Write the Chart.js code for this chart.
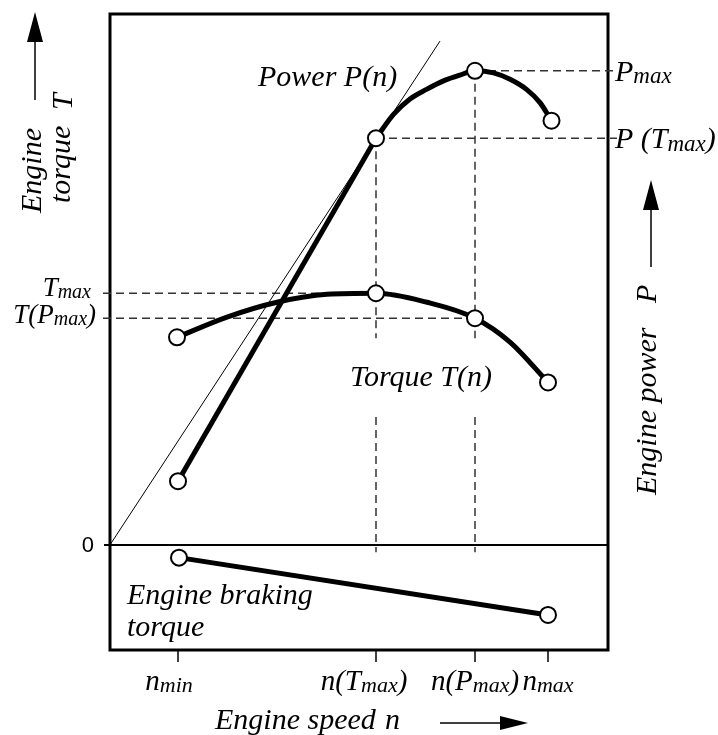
<!DOCTYPE html>
<html>
<head>
<meta charset="utf-8">
<title>Engine torque and power</title>
<script src="https://cdn.jsdelivr.net/npm/chart.js@4.4.1/dist/chart.umd.min.js"></script>
<style>
    html, body { margin: 0; padding: 0; background: #fff; }
    canvas { display: block; }
</style>
</head>
<body>
<canvas id="engineChart" width="718" height="735"></canvas>
<script>
// speed in arbitrary units (0..99.6), torque / power in arbitrary units (0..100)
const speedTicks = [13.6, 53.2, 73.0, 87.6];
const speedTickLabels = ["n_{min}", "n(T_{max})", "n(P_{max})", "n_{max}"];

const torqueTickValues = [47.4, 42.7];
const torqueTickLabels = ["T_{max}", "T(P_{max})"];
const powerTickValues = [89.3, 76.6];
const powerTickLabels = ["P_{max}", "P (T_{max})"];

const powerRampSpeed = [13.6, 53.2];
const powerRampValue = [12.0, 76.6];
const powerCurveSpeed = [53.2, 56.7, 60.0, 63.3, 66.7, 70.0, 73.0, 76.7, 80.0, 83.3, 86.0, 88.3];
const powerCurveValue = [76.6, 81.1, 84.0, 85.8, 87.4, 88.5, 89.3, 88.9, 87.7, 85.8, 83.3, 79.9];

const torqueSpeed = [13.4, 23.4, 33.4, 43.4, 53.2, 63.4, 73.0, 80.0, 87.6];
const torqueValue = [39.1, 42.9, 45.7, 47.2, 47.4, 45.7, 42.7, 38.2, 30.6];

const brakingSpeed = [13.8, 87.6];
const brakingValue = [-2.4, -13.2];

const tangentSpeed = [0, 66.0];
const tangentValue = [0, 94.9];

const nTmax = speedTicks[1], nPmax = speedTicks[2];
const Tmax = torqueTickValues[0], TPmax = torqueTickValues[1];
const Pmax = powerTickValues[0], PTmax = powerTickValues[1];

function toPoints(xs, ys) {
    return xs.map((x, i) => ({ x: x, y: ys[i] }));
}

function markers(n, keys) {
    const r = [];
    for (let i = 0; i < n; i++) r.push(keys.indexOf(i) >= 0 ? 8 : 0);
    return r;
}

const serif = "'Liberation Serif', 'Times New Roman', serif";

function parseRich(str) {
    const parts = [];
    let i = 0;
    while (i < str.length) {
        const k = str.indexOf("_{", i);
        if (k < 0) { parts.push({ t: str.slice(i), sub: false }); break; }
        if (k > i) parts.push({ t: str.slice(i, k), sub: false });
        const e = str.indexOf("}", k);
        parts.push({ t: str.slice(k + 2, e), sub: true });
        i = e + 1;
    }
    return parts;
}

function drawRich(ctx, str, x, y, size, align) {
    const parts = parseRich(str);
    const fontFor = p => "italic " + (p.sub ? Math.round(size * 0.75) : size) + "px " + serif;
    let w = 0;
    parts.forEach(p => { ctx.font = fontFor(p); p.w = ctx.measureText(p.t).width; w += p.w; });
    let cx = align === "center" ? x - w / 2 : align === "right" ? x - w : x;
    ctx.textAlign = "left";
    ctx.textBaseline = "alphabetic";
    parts.forEach(p => {
        ctx.font = fontFor(p);
        ctx.fillText(p.t, cx, y + (p.sub ? size * 0.08 : 0));
        cx += p.w;
    });
}

function drawUpText(ctx, str, x, y, size) {
    ctx.save();
    ctx.translate(x, y);
    ctx.rotate(-Math.PI / 2);
    drawRich(ctx, str, 0, 0, size, "left");
    ctx.restore();
}

function drawArrow(ctx, x1, y1, x2, y2, head, half) {
    const a = Math.atan2(y2 - y1, x2 - x1);
    const bx = x2 - head * Math.cos(a), by = y2 - head * Math.sin(a);
    ctx.beginPath();
    ctx.moveTo(x1, y1);
    ctx.lineTo(bx, by);
    ctx.lineWidth = 1.5;
    ctx.stroke();
    ctx.beginPath();
    ctx.moveTo(x2, y2);
    ctx.lineTo(bx + half * Math.sin(a), by - half * Math.cos(a));
    ctx.lineTo(bx - half * Math.sin(a), by + half * Math.cos(a));
    ctx.closePath();
    ctx.fill();
}

// frame, zero line and tick marks under the curves
const framePlugin = {
    id: "frame",
    beforeDatasetsDraw(chart) {
        const { ctx, chartArea: a, scales } = chart;
        const y0 = scales.y.getPixelForValue(0);
        ctx.save();
        ctx.strokeStyle = "#000";
        ctx.lineWidth = 3;
        ctx.strokeRect(a.left, a.top, a.right - a.left, a.bottom - a.top);
        ctx.lineWidth = 2;
        ctx.beginPath();
        ctx.moveTo(a.left - 6, y0);
        ctx.lineTo(a.right, y0);
        ctx.stroke();
        ctx.lineWidth = 1.5;
        speedTicks.forEach(v => {
            const x = scales.x.getPixelForValue(v);
            ctx.beginPath();
            ctx.moveTo(x, a.bottom);
            ctx.lineTo(x, a.bottom + 12);
            ctx.stroke();
        });
        ctx.restore();
    },
    afterDraw(chart) {
        const { ctx, chartArea: a, scales } = chart;
        ctx.save();
        ctx.fillStyle = "#000";
        ctx.strokeStyle = "#000";

        // speed tick labels
        const dx = [-9, -12, 0, 0];
        speedTickLabels.forEach((s, i) => {
            drawRich(ctx, s, scales.x.getPixelForValue(speedTicks[i]) + dx[i], a.bottom + 40, 29, "center");
        });

        // torque tick labels (left)
        const ty = [3, 5];
        torqueTickLabels.forEach((s, i) => {
            drawRich(ctx, s, a.left - 19 + i * 5, scales.y.getPixelForValue(torqueTickValues[i]) + ty[i], 27, "right");
        });

        // power tick labels (right)
        powerTickLabels.forEach((s, i) => {
            drawRich(ctx, s, a.right + 7, scales.y.getPixelForValue(powerTickValues[i]) + 10, 30, "left");
        });

        ctx.font = "22px 'Liberation Sans', 'DejaVu Sans', sans-serif";
        ctx.textAlign = "right";
        ctx.textBaseline = "middle";
        ctx.fillText("0", a.left - 16, scales.y.getPixelForValue(0) + 1);

        // curve labels
        drawRich(ctx, "Power P(n)", 258, 86, 30, "left");
        drawRich(ctx, "Torque T(n)", 350, 386, 30, "left");
        drawRich(ctx, "Engine braking", 127, 604, 30, "left");
        drawRich(ctx, "torque", 127, 636, 30, "left");

        // axis titles
        drawUpText(ctx, "Engine", 41, 213, 30);
        drawUpText(ctx, "torque", 70, 203, 30);
        drawUpText(ctx, "T", 72, 110, 30);
        drawArrow(ctx, 35, 100, 35, 12, 30, 8);

        drawUpText(ctx, "Engine power", 656, 495, 30);
        drawUpText(ctx, "P", 656, 303, 30);
        drawArrow(ctx, 651, 267, 651, 180, 30, 8);

        drawRich(ctx, "Engine speed", 215, 729, 30, "left");
        drawRich(ctx, "n", 385, 729, 30, "left");
        drawArrow(ctx, 440, 723, 528, 723, 28, 7);

        ctx.restore();
    }
};

const dash = {
    borderColor: "#333",
    borderWidth: 1.5,
    borderDash: [8, 5],
    pointRadius: 0,
    fill: false,
    clip: false,
    order: 3
};

const refLines = [
    [{ x: -1.4, y: Tmax }, { x: nTmax, y: Tmax }],
    [{ x: -1.4, y: TPmax }, { x: nPmax, y: TPmax }],
    [{ x: nTmax, y: PTmax }, { x: 101.4, y: PTmax }],
    [{ x: nPmax, y: Pmax }, { x: 101.4, y: Pmax }],
    [{ x: nTmax, y: PTmax }, { x: nTmax, y: 38.9 }, { x: nTmax, y: null }, { x: nTmax, y: 24.1 }, { x: nTmax, y: -1.4 }],
    [{ x: nPmax, y: Pmax }, { x: nPmax, y: 38.9 }, { x: nPmax, y: null }, { x: nPmax, y: 24.1 }, { x: nPmax, y: -1.4 }]
];

const datasets = refLines.map(d => Object.assign({ data: d }, dash));

datasets.push({
    data: toPoints(tangentSpeed, tangentValue),
    borderColor: "#000",
    borderWidth: 1,
    pointRadius: 0,
    order: 2
});
datasets.push({
    data: toPoints(powerRampSpeed, powerRampValue),
    borderColor: "#000",
    borderWidth: 5,
    pointRadius: [8, 0],
    pointBackgroundColor: "#fff",
    pointBorderColor: "#000",
    pointBorderWidth: 2,
    order: 1
});
datasets.push({
    data: toPoints(powerCurveSpeed, powerCurveValue),
    borderColor: "#000",
    borderWidth: 5,
    cubicInterpolationMode: "monotone",
    pointRadius: markers(powerCurveSpeed.length, [0, 6, 11]),
    pointBackgroundColor: "#fff",
    pointBorderColor: "#000",
    pointBorderWidth: 2,
    order: 0
});
datasets.push({
    data: toPoints(torqueSpeed, torqueValue),
    borderColor: "#000",
    borderWidth: 5,
    cubicInterpolationMode: "monotone",
    pointRadius: markers(torqueSpeed.length, [0, 4, 6, 8]),
    pointBackgroundColor: "#fff",
    pointBorderColor: "#000",
    pointBorderWidth: 2,
    order: 0
});
datasets.push({
    data: toPoints(brakingSpeed, brakingValue),
    borderColor: "#000",
    borderWidth: 5,
    pointRadius: 8,
    pointBackgroundColor: "#fff",
    pointBorderColor: "#000",
    pointBorderWidth: 2,
    order: 0
});

new Chart(document.getElementById("engineChart"), {
    type: "line",
    data: { datasets: datasets },
    options: {
        responsive: false,
        animation: false,
        events: [],
        layout: { padding: { left: 110, right: 110, top: 14, bottom: 85 } },
        plugins: { legend: { display: false }, tooltip: { enabled: false } },
        scales: {
            x: { type: "linear", min: 0, max: 99.6, display: false },
            y: { type: "linear", min: -19.8, max: 100, display: false }
        }
    },
    plugins: [framePlugin]
});
</script>
</body>
</html>
